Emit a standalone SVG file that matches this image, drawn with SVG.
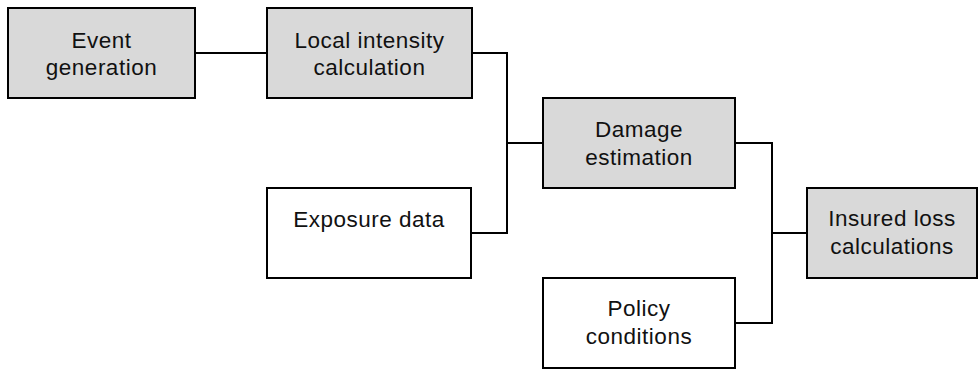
<svg xmlns="http://www.w3.org/2000/svg" width="978" height="369" viewBox="0 0 978 369">
<style>
.box{stroke:#000;stroke-width:2}
.g{fill:#d9d9d9}
.w{fill:#fff}
text{font-family:"Liberation Sans",Arial,sans-serif;font-size:22.5px;letter-spacing:0.5px;fill:#111;text-anchor:middle}
.c{fill:none;stroke:#000;stroke-width:2}
</style>
<rect width="978" height="369" fill="#fff"/>
<g id="connectors">
<path class="c" d="M195 53H267"/>
<path class="c" d="M472 53H507V233H471"/>
<path class="c" d="M507 143H543"/>
<path class="c" d="M735 143H772V323H735"/>
<path class="c" d="M772 233H807"/>
</g>
<g id="event">
<rect class="box g" x="8" y="8" width="187" height="90"/>
<text x="101.5" y="48">Event</text>
<text x="101.5" y="75">generation</text>
</g>
<g id="local">
<rect class="box g" x="267" y="8" width="205" height="90"/>
<text x="369.5" y="48">Local intensity</text>
<text x="369.5" y="75">calculation</text>
</g>
<g id="exposure">
<rect class="box w" x="267" y="188" width="204" height="90"/>
<text x="369" y="227">Exposure data</text>
</g>
<g id="damage">
<rect class="box g" x="543" y="98" width="192" height="90"/>
<text x="639" y="137">Damage</text>
<text x="639" y="165">estimation</text>
</g>
<g id="policy">
<rect class="box w" x="543" y="278" width="192" height="90"/>
<text x="639" y="316">Policy</text>
<text x="639" y="344">conditions</text>
</g>
<g id="insured">
<rect class="box g" x="807" y="188" width="170" height="90"/>
<text x="892" y="226">Insured loss</text>
<text x="892" y="254">calculations</text>
</g>
</svg>
